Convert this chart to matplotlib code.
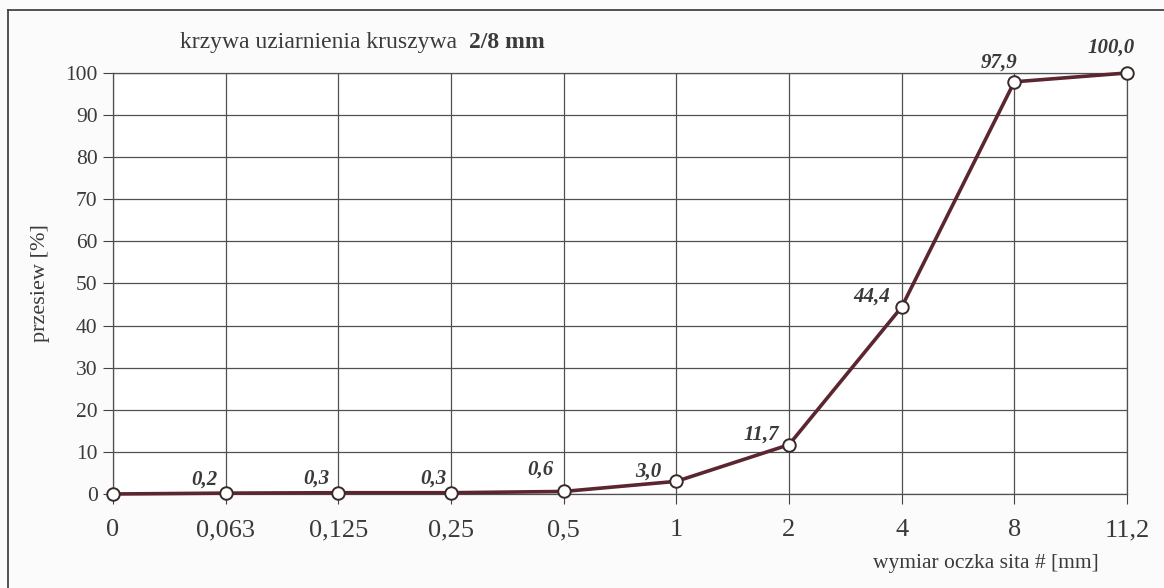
import matplotlib.pyplot as plt
from matplotlib.lines import Line2D

# dane krzywej uziarnienia
sieves = ['0', '0,063', '0,125', '0,25', '0,5', '1', '2', '4', '8', '11,2']
passing = [0.0, 0.2, 0.3, 0.3, 0.6, 3.0, 11.7, 44.4, 97.9, 100.0]
labels = ['', '0,2', '0,3', '0,3', '0,6', '3,0', '11,7', '44,4', '97,9', '100,0']
# przesuniecia etykiet wzgledem punktow (px), jak na oryginale
label_offsets = [(0, 0), (-21, 9), (-22, 9), (-18, 9), (-23, 17),
                 (-28, 5), (-28, 5), (-30, 5), (-15, 14), (-16, 20)]

plt.rcParams['font.family'] = ['Liberation Serif', 'DejaVu Serif']
txt = '#3a3a3a'

fig = plt.figure(figsize=(11.64, 5.88), dpi=100, facecolor='#fbfbfb')
ax = fig.add_axes([0.0971, 0.1599, 0.8711, 0.716])
ax.set_facecolor('white')

x = list(range(len(sieves)))
ax.plot(x, passing, color='#5b2630', lw=2.6, marker='o', ms=9,
        mfc='white', mec='#3a2a2a', mew=1.4, zorder=3, clip_on=False)

for xi, yi, lab, off in zip(x, passing, labels, label_offsets):
    if lab:
        ax.annotate(lab, (xi, yi), xytext=off, textcoords='offset pixels',
                    ha='center', va='baseline', fontsize=15, fontweight='bold',
                    fontstyle='italic', color=txt)

ax.set_xlim(0, len(sieves) - 1)
ax.set_ylim(0, 100)
ax.set_xticks(x)
ax.set_xticklabels(sieves, fontsize=19, color=txt)
ax.set_yticks(range(0, 101, 10))
ax.tick_params(axis='y', labelsize=15.5, length=7, pad=4, colors='#444444',
               labelcolor=txt)
ax.tick_params(axis='x', length=7, pad=11, colors='#444444', labelcolor=txt)
ax.grid(True, color='#505050', lw=0.9)
ax.set_axisbelow(True)
for s in ax.spines.values():
    s.set_color('#505050')
    s.set_linewidth(0.9)

ax.set_ylabel('przesiew [%]', fontsize=16, color=txt, labelpad=11)

t1 = fig.text(0.155, 0.927, 'krzywa uziarnienia kruszywa  ', fontsize=17,
              color=txt, va='center')
ax.annotate('2/8 mm', xy=(1, 0.5), xycoords=t1, va='center', ha='left',
            fontsize=17, fontweight='bold', color=txt, annotation_clip=False)
fig.text(0.944, 0.042, 'wymiar oczka sita # [mm]', fontsize=15.5,
         color=txt, ha='right', va='center')

# ramka skanu (widoczna tylko gora i lewa krawedz)
fig.add_artist(Line2D([0.007, 1.0], [0.983, 0.983], transform=fig.transFigure,
                      color='#444444', lw=1.3))
fig.add_artist(Line2D([0.007, 0.007], [0.0, 0.983], transform=fig.transFigure,
                      color='#444444', lw=1.3))

fig.savefig('out.png', dpi=100, facecolor=fig.get_facecolor())
